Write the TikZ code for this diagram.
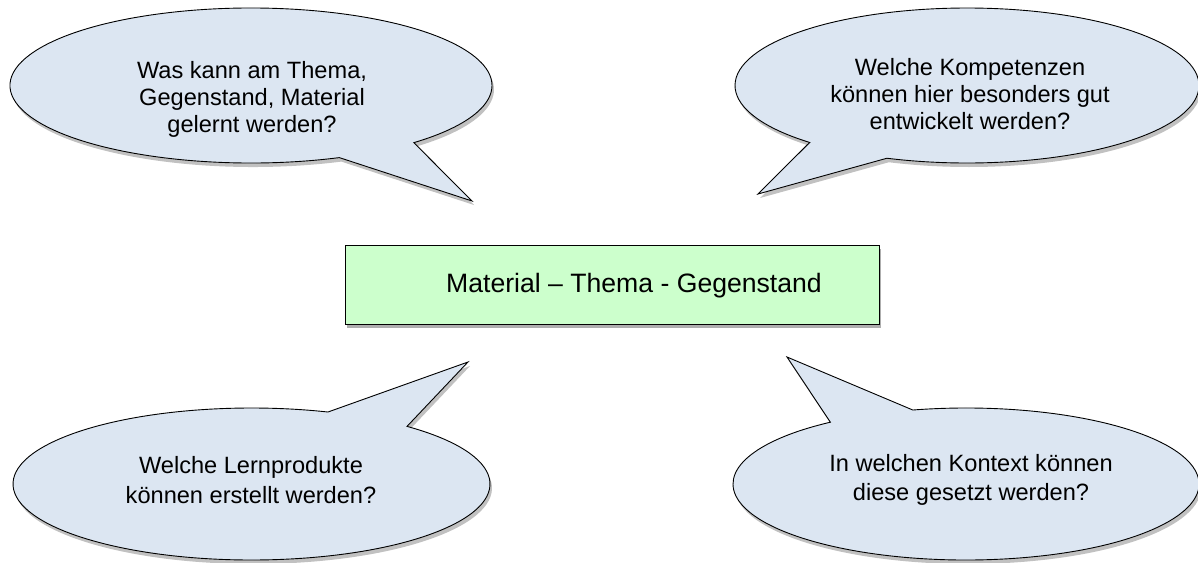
\documentclass[tikz,border=0pt]{standalone}
\usepackage{fontspec}
\setmainfont{Liberation Sans}
\usetikzlibrary{shadows}
\definecolor{bubblefill}{HTML}{DCE6F2}
\definecolor{boxfill}{HTML}{CCFFCC}
\begin{document}
\begin{tikzpicture}[x=1pt,y=-1pt,
  bubble/.style={draw=black,line width=0.9pt,fill=bubblefill,line join=miter,
    drop shadow={shadow xshift=2pt,shadow yshift=-4pt,opacity=0.35,fill=black!70}},
  mainbox/.style={draw=black,line width=1pt,fill=boxfill,
    drop shadow={shadow xshift=2pt,shadow yshift=-4pt,opacity=0.45,fill=black!70}},
  bubbletext/.style={align=center,font=\fontsize{23.6}{27}\selectfont,inner sep=0pt},
  bubbletextb/.style={align=center,font=\fontsize{23.6}{29.5}\selectfont,inner sep=0pt},
  boxtext/.style={font=\fontsize{26.6}{30}\selectfont,inner sep=0pt}]
\useasboundingbox (0,0) rectangle (1198,562);

% top-left callout
\draw[bubble] (251,85.5) ++(68.5:241 and 77.5)
  arc[start angle=68.5,end angle=407.5,x radius=241,y radius=77.5]
  -- (472,201) -- cycle;
% top-right callout
\draw[bubble] (967,85.5) ++(132.7:232 and 77.5)
  arc[start angle=132.7,end angle=470.2,x radius=232,y radius=77.5]
  -- (758,194) -- cycle;
% bottom-left callout
\draw[bubble] (251.5,484) ++(-49.3:238.5 and 76)
  arc[start angle=-49.3,end angle=288.7,x radius=238.5,y radius=76]
  -- (468,362) -- cycle;
% bottom-right callout
\draw[bubble] (966,484) ++(256.8:233 and 76)
  arc[start angle=256.8,end angle=594.4,x radius=233,y radius=76]
  -- (787,357) -- cycle;

% central box
\draw[mainbox] (345,245) rectangle (879,324);
\node[boxtext,anchor=base] (center) at (634,292) {Material – Thema - Gegenstand};

\node[bubbletext] (tl) at (252,99) {Was kann am Thema,\\Gegenstand, Material\\gelernt werden?};
\node[bubbletext] (tr) at (970,94) {Welche Kompetenzen\\können hier besonders gut\\entwickelt werden?};
\node[bubbletextb] (bl) at (251,480) {Welche Lernprodukte\\können erstellt werden?};
\node[bubbletextb] (br) at (971,480) {In welchen Kontext können\\diese gesetzt werden?};
\end{tikzpicture}
\end{document}
